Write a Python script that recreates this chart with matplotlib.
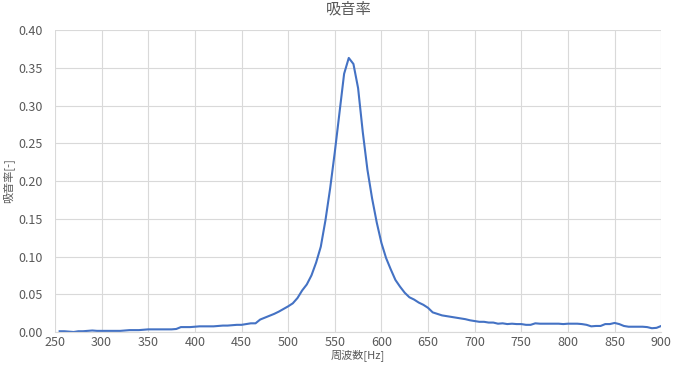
import numpy as np
import matplotlib.pyplot as plt

plt.rcParams['font.family'] = ['Noto Sans CJK JP', 'DejaVu Sans']

# Frequency [Hz] and absorption coefficient
freq = list(range(255, 905, 5))
alpha = [
    0.001, 0.001, 0.0005, 0.000, 0.001, 0.001, 0.0015, 0.002, 0.0015, 0.0015,   # 255-300
    0.0015, 0.0015, 0.0015, 0.0015, 0.002, 0.0025, 0.0025, 0.0025, 0.003, 0.0035,  # 305-350
    0.0035, 0.0035, 0.0035, 0.0035, 0.0035, 0.004, 0.0065, 0.0065, 0.0065, 0.007,  # 355-400
    0.0075, 0.0075, 0.0075, 0.0075, 0.008, 0.0085, 0.0085, 0.009, 0.0095, 0.0095,  # 405-450
    0.0105, 0.0115, 0.0115, 0.0165, 0.019, 0.0215, 0.024, 0.027, 0.0305, 0.034,    # 455-500
    0.038, 0.045, 0.055, 0.063, 0.075, 0.092, 0.113, 0.148, 0.19, 0.238,           # 505-550
    0.29, 0.342, 0.363, 0.355, 0.323, 0.265, 0.215, 0.177, 0.145, 0.118,           # 555-600
    0.098, 0.083, 0.069, 0.060, 0.052, 0.046, 0.043, 0.039, 0.036, 0.032,          # 605-650
    0.026, 0.024, 0.022, 0.021, 0.020, 0.019, 0.018, 0.017, 0.0155, 0.0145,        # 655-700
    0.0135, 0.0135, 0.0125, 0.0125, 0.011, 0.0115, 0.0105, 0.011, 0.0105, 0.0105,  # 705-750
    0.0095, 0.0095, 0.0115, 0.011, 0.011, 0.011, 0.011, 0.011, 0.0105, 0.011,      # 755-800
    0.011, 0.011, 0.0105, 0.0095, 0.0075, 0.008, 0.008, 0.0105, 0.0105, 0.012,     # 805-850
    0.0105, 0.008, 0.007, 0.007, 0.007, 0.007, 0.0065, 0.005, 0.0055, 0.008,       # 855-900
]
x_ticks = list(range(250, 901, 50))
y_ticks = [0.00, 0.05, 0.10, 0.15, 0.20, 0.25, 0.30, 0.35, 0.40]

fig = plt.figure(figsize=(6.74, 3.65), dpi=100)
ax = fig.add_axes([0.0816, 0.0904, 0.8994, 0.8274])

ax.plot(freq, alpha, color='#4472C4', linewidth=1.5)

ax.set_xlim(250, 900)
ax.set_ylim(0, 0.40)
ax.set_xticks(x_ticks)
ax.set_yticks(y_ticks)
ax.set_yticklabels(['{:.2f}'.format(v) for v in y_ticks])

ax.grid(True, color='#d9d9d9', linewidth=0.8)
ax.set_axisbelow(True)
for s in ['top', 'right', 'left']:
    ax.spines[s].set_visible(False)
ax.spines['bottom'].set_color('#d9d9d9')
ax.tick_params(length=0, labelsize=9, colors='#595959')
ax.tick_params(axis='y', pad=9)
ax.tick_params(axis='x', pad=3)

# title sits a little left of the plot centre, like the original
ax.set_title('吸音率', fontsize=11, color='#595959', pad=12, x=0.484)
ax.set_xlabel('周波数[Hz]', fontsize=8, color='#595959', labelpad=0)
ax.set_ylabel('吸音率[-]', fontsize=8, color='#595959', labelpad=3)

fig.savefig('out.png', dpi=100)
